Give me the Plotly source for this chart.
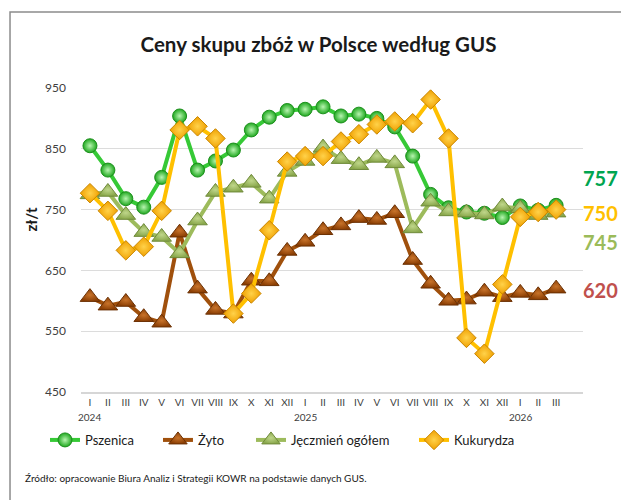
import plotly.graph_objects as go

months = ["I", "II", "III", "IV", "V", "VI", "VII", "VIII", "IX", "X", "XI", "XII",
          "I", "II", "III", "IV", "V", "VI", "VII", "VIII", "IX", "X", "XI", "XII",
          "I", "II", "III"]
years = ["2024", "2025", "2026"]

pszenica = [855, 815, 768, 754, 803, 904, 815, 830, 848, 881, 902, 913,
            915, 919, 904, 907, 900, 886, 838, 775, 753, 746, 744, 737,
            756, 749, 757]
zyto = [606, 592, 598, 573, 564, 712, 620, 585, 579, 633, 632, 682,
        697, 716, 724, 736, 733, 744, 667, 628, 600, 602, 615, 606,
        613, 609, 620]
jeczmien = [775, 779, 741, 713, 705, 678, 732, 779, 786, 794, 768, 812,
            830, 852, 833, 823, 835, 826, 719, 763, 747, 745, 742, 755,
            752, 741, 745]
kukurydza = [777, 748, 683, 689, 748, 881, 887, 867, 579, 612, 716, 829,
             838, 838, 862, 874, 890, 895, 892, 931, 867, 539, 513, 627,
             738, 746, 750]

y_ticks = [450, 550, 650, 750, 850, 950]

x = list(range(len(months)))

series = [
    ("Pszenica", pszenica, "#36c936", "circle", 14, "#1fa81f", "#b8f5b0", "#1c8f1c"),
    ("Żyto", zyto, "#a0500c", "triangle-up", 17, "#8c3f04", "#c8732a", "#6b3003"),
    ("Jęczmień ogółem", jeczmien, "#9dbb5c", "triangle-up", 17, "#8aa84c", "#bfd68a", "#6f8a3a"),
    ("Kukurydza", kukurydza, "#ffc000", "diamond", 15, "#f0a000", "#ffd24a", "#c98600"),
]
legend_ids = ["legend", "legend2", "legend3", "legend4"]
legend_x = [0.0596, 0.2415, 0.3913, 0.6538]

FONT = "Lato"
fig = go.Figure()
for (name, vals, lc, sym, sz, mc, gc, olc), lid in zip(series, legend_ids):
    fig.add_trace(go.Scatter(
        x=x, y=vals, name=name, mode="lines+markers",
        line=dict(color=lc, width=4),
        marker=dict(symbol=sym, size=sz, color=mc,
                    gradient=dict(type="radial", color=gc),
                    line=dict(color=olc, width=1)),
        cliponaxis=False, legend=lid, showlegend=True,
    ))

# right side value labels (value from data, vertical position as layout)
last_labels = [
    (pszenica[-1], "#00a550", 802),
    (kukurydza[-1], "#ffc000", 744),
    (jeczmien[-1], "#9bbb59", 697),
    (zyto[-1], "#c0504d", 617),
]
annotations = []
for val, col, ypos in last_labels:
    annotations.append(dict(x=0.996, y=ypos, xref="paper", yref="y", text=str(val),
                            showarrow=False, xanchor="left", yanchor="middle",
                            font=dict(family=FONT, size=20, color=col, weight="bold")))
# year labels
yi = 0
for i, m in enumerate(months):
    if m == "I":
        annotations.append(dict(x=i, y=-0.082, xref="x", yref="paper", text=years[yi],
                                showarrow=False, xanchor="center", yanchor="middle",
                                font=dict(family=FONT, size=10, color="#404040")))
        yi += 1
# source text
annotations.append(dict(x=-0.1155, y=-0.284, xref="paper", yref="paper",
                        text="Źródło: opracowanie Biura Analiz i Strategii KOWR na podstawie danych GUS.",
                        showarrow=False, xanchor="left", yanchor="middle",
                        font=dict(family=FONT, size=10, color="#1a1a1a")))
# axis title
annotations.append(dict(x=-0.1, y=0.57, xref="paper", yref="paper", text="<b>zł/t</b>",
                        showarrow=False, textangle=-90, xanchor="center", yanchor="middle",
                        font=dict(family=FONT, size=15, color="#1a1a1a")))

legend_common = dict(orientation="h", xref="container", yref="container",
                     y=0.122, xanchor="left", yanchor="middle",
                     font=dict(family=FONT, size=13, color="#1a1a1a"),
                     bgcolor="rgba(0,0,0,0)")

layout_legends = {lid: dict(legend_common, x=lx) for lid, lx in zip(legend_ids, legend_x)}

fig.update_layout(
    width=621, height=492,
    showlegend=True,
    margin=dict(l=73, r=46, t=80, b=108, autoexpand=False),
    paper_bgcolor="white", plot_bgcolor="white",
    title=dict(text="Ceny skupu zbóż w Polsce według GUS", x=0.5, xanchor="center",
               y=0.925, yanchor="middle",
               font=dict(family=FONT, size=20.5, color="#1a1a1a", weight="bold")),
    xaxis=dict(range=[-0.5, 27.5], tickvals=x, ticktext=months, showgrid=False,
               showline=True, linecolor="#d6d6d6", linewidth=2, zeroline=False,
               ticks="", tickfont=dict(family=FONT, size=10, color="#404040"),
               ticklabelstandoff=0, automargin=False),
    yaxis=dict(range=[450, 950], tickvals=y_ticks, showgrid=True, gridcolor="#dcdcdc",
               gridwidth=1, zeroline=False, showline=False, ticks="",
               tickfont=dict(family=FONT, size=12, color="#404040"),
               ticklabelstandoff=14, automargin=False),
    annotations=annotations,
    shapes=[dict(type="rect", xref="paper", yref="paper",
                 x0=-0.1414, x1=1.2, y0=-0.4, y1=1.2503,
                 line=dict(color="#8c8c8c", width=1.5), layer="below")],
    **layout_legends,
)

fig.write_html("out.html")
